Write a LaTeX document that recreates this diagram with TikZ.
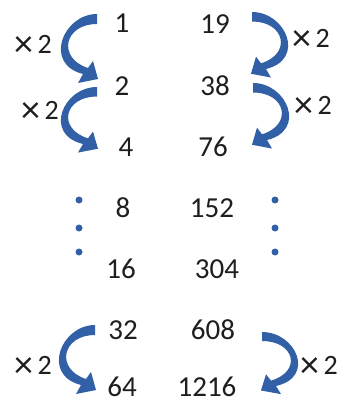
\documentclass[tikz,border=0pt]{standalone}
\usepackage{fontspec}
\setmainfont{Carlito}
\usepackage{tikz}
\usetikzlibrary{arrows.meta, calc, positioning}
\definecolor{dbl-ink}{HTML}{1E1E1E}
\definecolor{dbl-blue}{HTML}{3160A6}
\newcommand\bigtimes{\raisebox{-3.5pt}{\fontsize{38}{38}\selectfont ×}}

\begin{document}
\begin{tikzpicture}[x=1pt, y=-1pt, line cap=round, line join=round,
    num/.style={font=\fontsize{29}{30}\selectfont, anchor=base, text=dbl-ink, inner sep=0pt},
    times/.style={font=\fontsize{28}{29}\selectfont, text=dbl-ink, inner sep=0pt},
    twice/.pic={\fill[dbl-blue] (0,0) .. controls (-34,0) and (-54,50) .. (-14,60)
      -- (-19,69) -- (1,65) -- (-4,47) -- (-9,54) .. controls (-40,44) and (-33,10) .. (0,10) -- cycle;}]
  \useasboundingbox (0,0) rectangle (342,398);
  \node[num] (l1) at (122,33) {1};
  \node[num] (l2) at (122,96) {2};
  \node[num] (l3) at (126,157) {4};
  \node[num] (l4) at (123,217) {8};
  \node[num] (l5) at (121,278) {16};
  \node[num] (l6) at (123,339) {32};
  \node[num] (l7) at (122,396) {64};
  \node[num] (r1) at (215,34) {19};
  \node[num] (r2) at (215,96) {38};
  \node[num] (r3) at (213,156) {76};
  \node[num] (r4) at (212,217) {152};
  \node[num] (r5) at (217,278) {304};
  \node[num] (r6) at (213,339) {608};
  \node[num] (r7) at (207,396) {1216};
  \pic at (97,14) {twice};
  \pic[yscale=0.95] at (97,87) {twice};
  \pic at (95,325) {twice};
  \pic[xscale=-1, yscale=0.95] at (252,12) {twice};
  \pic[xscale=-1, yscale=0.95] at (253,83) {twice};
  \pic[xscale=-1, yscale=0.9] at (262,332) {twice};
  \node[times] (tl1) at (33,46) {\bigtimes\,2};
  \node[times] (tl2) at (40,112) {\bigtimes\,2};
  \node[times] (tl3) at (33,367) {\bigtimes\,2};
  \node[times] (tr1) at (311,40) {\bigtimes\,2};
  \node[times] (tr2) at (313,107) {\bigtimes\,2};
  \node[times] (tr3) at (319,367) {\bigtimes\,2};
  \foreach \y in {200,228,252} {
    \fill[dbl-blue] (79,\y) circle (3.5);
    \fill[dbl-blue] (275,\y) circle (3.5);
  }
\end{tikzpicture}
\end{document}
